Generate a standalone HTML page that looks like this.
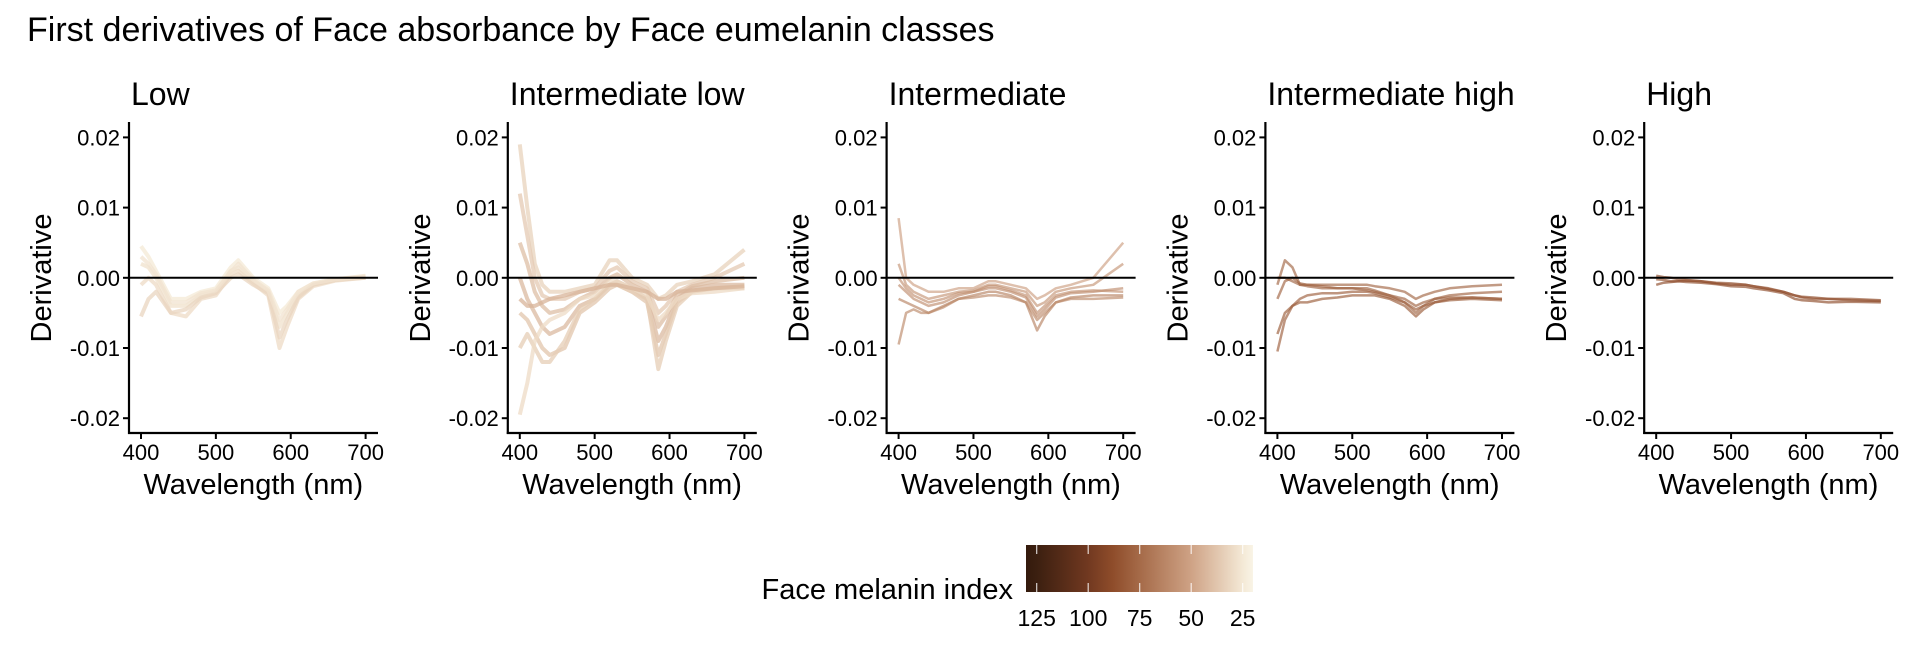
<!DOCTYPE html>
<html><head><meta charset="utf-8"><style>
html,body{margin:0;padding:0;background:#fff;}
svg{display:block;font-family:"Liberation Sans",Arial,sans-serif;}
</style></head><body>
<svg id="chart" width="1920" height="672" viewBox="0 0 1920 672" xmlns="http://www.w3.org/2000/svg">
<defs>
<linearGradient id="lg" x1="0" x2="1" y1="0" y2="0">
<stop offset="0" stop-color="#341a0c"/>
<stop offset="0.045" stop-color="#3b1f10"/>
<stop offset="0.27" stop-color="#703820"/>
<stop offset="0.38" stop-color="#8e4c2a"/>
<stop offset="0.5" stop-color="#a56a48"/>
<stop offset="0.73" stop-color="#cfa386"/>
<stop offset="0.955" stop-color="#f4e9d6"/>
<stop offset="1" stop-color="#f9f4e6"/>
</linearGradient>
</defs>
<text x="27" y="41" font-size="34" fill="#000">First derivatives of Face absorbance by Face eumelanin classes</text>
<g id="panels"></g>
<g>
<text x="1013" y="599" font-size="29" text-anchor="end">Face melanin index</text>
<rect x="1026" y="545" width="227" height="47" fill="url(#lg)"/>
<g id="legticks"></g>
</g>
</svg>
<script>
const wavelengths=[400,410,420,430,440,460,480,500,520,530,550,570,585,595,610,630,660,700];
const yTicks=[0.02,0.01,0,-0.01,-0.02];
const xTicks=[400,500,600,700];
const panelTitles=["Low","Intermediate low","Intermediate","Intermediate high","High"];
const legendTicks=[125,100,75,50,25];
// values in units of 1e-3
const lowIdx=[25,28,30,32,27];
const lowVals=[
[4.5,3,1,-1,-3,-3,-2,-1.5,1.5,2.5,0,-1.5,-5,-4,-2,-0.8,-0.2,0.3],
[2,1.5,0,-2,-4,-4,-2.5,-2,1,1.5,-0.5,-2,-7,-5,-2.5,-1,-0.3,0.1],
[-1,0,-1,-3,-5,-5.5,-3,-2.5,0.5,1,-0.8,-2.5,-10,-7,-3,-1.2,-0.4,0],
[-5.5,-3,-2,-3.5,-5,-4.5,-2.8,-2.2,0,0.5,-1,-2.2,-8.5,-6,-2.8,-1,-0.3,0],
[3,2,0.5,-1.5,-3.5,-3.5,-2.2,-1.8,0.8,2,-0.3,-1.8,-6,-4.5,-2,-0.8,-0.2,0.2]];
const ilowIdx=[33,36,40,42,38,35,30,44];
const ilowVals=[
[19,10,2,-1,-2,-2,-1.5,-1,2.5,2.5,0,-1,-3,-2.5,-1,-0.5,0.5,4],
[12,6,0,-2.5,-3,-3,-2,-1.5,1,1.5,-0.5,-1.5,-5,-4,-2,-1,0,2],
[5,2,-2,-4,-5,-4.5,-3,-2,0,0.5,-1,-2,-7,-5.5,-2.5,-1.2,-0.5,0],
[0,-3,-5,-7,-8,-7,-4,-3,-1,-0.5,-1.5,-3,-9,-7,-3,-1.5,-1,-1],
[-5,-6,-8,-10,-11,-10,-5,-3.5,-1.5,-1,-2,-3.5,-11,-8,-3.5,-2,-1.5,-1.5],
[-10,-8,-10,-12,-12,-9,-4.5,-3,-1,-1,-2,-3,-13,-9,-4,-2,-1.5,-1.2],
[-19.5,-15,-9,-7,-6,-5,-3,-2.5,-0.5,-0.5,-1.5,-2.5,-6,-5,-3,-2.2,-2,-1.5],
[-3,-4,-4,-3.5,-3,-2.5,-2,-1.5,-1,-1,-1.5,-2,-3,-3,-2,-1.8,-1.5,-1.2]];
const midIdx=[52,56,60,64,62,58];
const midVals=[
[8.5,0,-1,-1.5,-2,-2,-1.5,-1.5,-0.5,-0.5,-1,-1.5,-3,-2.5,-1.5,-1,0,5],
[2,-1,-2,-2.5,-3,-2.5,-2,-1.8,-1,-1,-1.5,-2,-4,-3.5,-2,-1.5,-1,2],
[-1,-2,-3,-3.5,-4,-3.5,-2.5,-2,-1.5,-1.5,-2,-2.8,-5.5,-4.5,-2.8,-2.2,-2,-1.5],
[-3,-3.5,-4,-4.5,-5,-4,-3,-2.5,-2,-2,-2.5,-3.5,-7.5,-5.5,-3.5,-2.8,-2.5,-2.5],
[-9.5,-5,-4.5,-5,-5,-4.2,-3,-2.8,-2.5,-2.5,-2.8,-3.5,-6,-5,-3.5,-3,-3,-2.8],
[0,-1.5,-2.5,-3,-3.5,-3,-2.2,-2,-1.2,-1.2,-1.8,-2.5,-5,-4,-2.5,-2,-1.8,-2]];
const ihighIdx=[78,82,85,88,80];
const ihighVals=[
[-1,2.5,1.5,-1,-1,-1,-1,-1,-1,-1.2,-1.5,-2,-3,-2.5,-2,-1.5,-1.2,-1],
[-3,-0.5,0,-0.8,-1,-1.2,-1.5,-1.5,-1.8,-2,-2.5,-3,-4,-3.5,-3,-2.5,-2.2,-2],
[-10.5,-6,-4,-3,-2.5,-2.2,-2.2,-2,-2,-2.2,-2.8,-3.5,-4.5,-4,-3.5,-3,-2.8,-3],
[-8,-5,-4,-3.5,-3.5,-3,-2.8,-2.5,-2.5,-2.5,-3,-4,-5.5,-4.5,-3.5,-3.2,-3,-3.2],
[0,0,-0.5,-1,-1.2,-1.5,-1.5,-1.5,-1.5,-1.8,-2.5,-3.5,-5,-4,-3,-2.8,-2.8,-3]];
const highIdx=[95,100,98];
const highVals=[
[-0.2,-0.3,-0.5,-0.5,-0.4,-0.5,-0.8,-1,-1,-1.2,-1.5,-2,-2.5,-2.8,-3,-3,-3.2,-3.3],
[-1,-0.7,-0.6,-0.5,-0.6,-0.7,-0.9,-1.2,-1.3,-1.5,-1.8,-2.2,-3,-3.2,-3.3,-3.5,-3.4,-3.5],
[0.3,0.1,0,-0.2,-0.3,-0.5,-0.7,-0.8,-1,-1.2,-1.6,-2,-2.5,-2.7,-2.8,-3,-3,-3.2]];
const panelIdx=[lowIdx,ilowIdx,midIdx,ihighIdx,highIdx];
const panelVals=[lowVals,ilowVals,midVals,ihighVals,highVals];

const NS="http://www.w3.org/2000/svg";
function mk(t,a,p){const e=document.createElementNS(NS,t);for(const k in a)e.setAttribute(k,a[k]);p.appendChild(e);return e;}
const Y0=277.8, YPER=7020;
function ys(v){return Y0-v*YPER;}
function xs(p,w){return 141+378.8*p+(w-400)*0.7487;}
const stops=[[20,[249,244,230]],[25,[244,233,214]],[50,[207,163,134]],[75,[165,106,72]],[100,[142,76,42]],[125,[59,31,16]],[130,[52,26,12]]];
function col(v){for(let i=0;i<stops.length-1;i++){const a=stops[i],b=stops[i+1];if(v>=a[0]&&v<=b[0]){const t=(v-a[0])/(b[0]-a[0]);return 'rgb('+a[1].map((c,j)=>Math.round(c+(b[1][j]-c)*t)).join(',')+')';}}return 'rgb(52,26,12)';}
const G=document.getElementById('panels');
for(let p=0;p<5;p++){
  const g=mk('g',{},G);
  
  
  const ax=xs(p,400)-12, axEnd=xs(p,400)+237, yTop=122, yBot=433;
  const st=mk('text',{x:ax+2,y:105,'font-size':32},g);st.textContent=panelTitles[p];
  
  
  const vals=panelVals[p], idx=panelIdx[p];
  for(let s=0;s<vals.length;s++){
    const d=vals[s].map((v,i)=>(i?'L':'M')+xs(p,wavelengths[i]).toFixed(1)+','+ys(v/1000).toFixed(1)).join('');
    const pl=mk('path',{d:d,fill:'none',stroke:col(idx[s]),'stroke-width':p<2?4:2.5,'stroke-opacity':p<2?0.75:0.65,'stroke-linejoin':'round'},g);
    
    
  }
  const zl=mk('line',{x1:ax,x2:axEnd,y1:ys(0),y2:ys(0),stroke:'#000','stroke-width':2},g);
  
  
  const ya=mk('line',{x1:ax,x2:ax,y1:yTop,y2:yBot+1,stroke:'#000','stroke-width':2.2},g);
  
  
  const xa=mk('line',{x1:ax-1,x2:axEnd,y1:yBot,y2:yBot,stroke:'#000','stroke-width':2.2},g);
  
  
  yTicks.forEach(v=>{
    mk('line',{x1:ax-6,x2:ax,y1:ys(v),y2:ys(v),stroke:'#000','stroke-width':2},g);
    const t=mk('text',{x:ax-9,y:ys(v)+8,'font-size':22,'text-anchor':'end'},g);t.textContent=v.toFixed(2);
    
    
  });
  xTicks.forEach(w=>{
    mk('line',{x1:xs(p,w),x2:xs(p,w),y1:yBot,y2:yBot+6,stroke:'#000','stroke-width':2},g);
    const t=mk('text',{x:xs(p,w),y:460,'font-size':22,'text-anchor':'middle'},g);t.textContent=w;
    
    
  });
  const xt=mk('text',{x:xs(p,550),y:494,'font-size':29,'text-anchor':'middle'},g);xt.textContent='Wavelength (nm)';
  
  
  const yt=mk('text',{x:0,y:0,'font-size':29,'text-anchor':'middle',transform:'translate('+(ax-78)+',278) rotate(-90)'},g);yt.textContent='Derivative';
  
  
}
const LT=document.getElementById('legticks');
legendTicks.forEach(v=>{
  const x=1242.7+(25-v)*(51.5/25);
  mk('line',{x1:x,x2:x,y1:545,y2:554,stroke:'#fff','stroke-width':1.2,'stroke-opacity':0.8},LT);
  mk('line',{x1:x,x2:x,y1:583,y2:592,stroke:'#fff','stroke-width':1.2,'stroke-opacity':0.8},LT);
  const t=mk('text',{x:x,y:626,'font-size':23,'text-anchor':'middle'},LT);t.textContent=v;
  
  
});
</script>
</body></html>
